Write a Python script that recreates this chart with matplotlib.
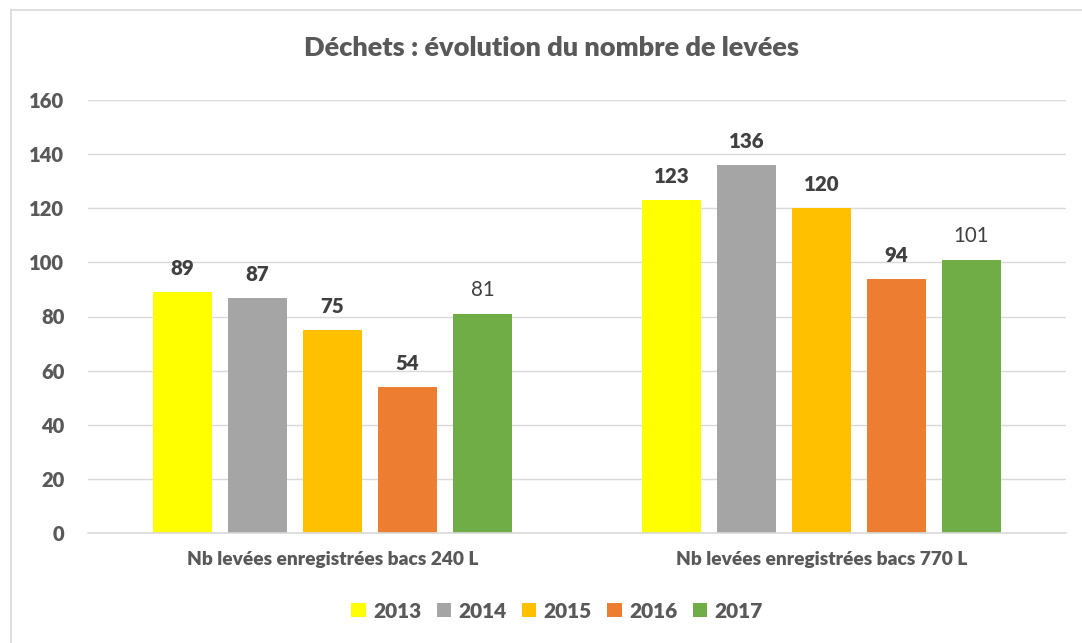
import matplotlib
matplotlib.use("Agg")
import matplotlib.pyplot as plt
from matplotlib.lines import Line2D
from matplotlib.patches import Patch
import numpy as np

categories = ["Nb levées enregistrées bacs 240 L", "Nb levées enregistrées bacs 770 L"]
years = ["2013", "2014", "2015", "2016", "2017"]
values = {
    "2013": [89, 123],
    "2014": [87, 136],
    "2015": [75, 120],
    "2016": [54, 94],
    "2017": [81, 101],
}
colors = ["#FFFF00", "#A5A5A5", "#FFC000", "#ED7D31", "#70AD47"]
bold_labels = [True, True, True, True, False]
yticks = [0, 20, 40, 60, 80, 100, 120, 140, 160]
title = "Déchets : évolution du nombre de levées"

plt.rcParams['font.family'] = ['Lato', 'DejaVu Sans']
W, H = 1082, 643
fig = plt.figure(figsize=(W / 100, H / 100), dpi=100)
ax = fig.add_axes([88 / W, 1 - 533 / H, (1066 - 88) / W, (533 - 100) / H])

txt = "#595959"
lab = "#404040"
grid = "#D9D9D9"

bw = 59 / 489
pitch = 75 / 489
x = np.arange(len(categories))
for i, (yr, c) in enumerate(zip(years, colors)):
    pos = x + (i - 2) * pitch
    bars = ax.bar(pos, values[yr], width=bw, color=c, zorder=3)
    for b, v in zip(bars, values[yr]):
        ax.annotate(str(v), (b.get_x() + b.get_width() / 2, v),
                    xytext=(0, 10), textcoords="offset points",
                    ha="center", va="bottom", fontsize=14.8,
                    fontweight="heavy" if bold_labels[i] else "normal",
                    color=lab)

ax.set_xlim(-0.5, 1.5)
ax.set_ylim(0, 160)
ax.set_yticks(yticks)
ax.set_yticklabels([str(t) for t in yticks], fontsize=14.5, fontweight="heavy", color=txt)
ax.set_xticks(x)
ax.set_xticklabels(categories, fontsize=13.8, fontweight="heavy", color=txt)
ax.tick_params(axis="both", length=0)
ax.tick_params(axis="y", pad=17)
ax.tick_params(axis="x", pad=13)
ax.grid(axis="y", color=grid, linewidth=1, zorder=0)
for s in ["top", "right", "left"]:
    ax.spines[s].set_visible(False)
ax.spines["bottom"].set_color(grid)
ax.spines["bottom"].set_linewidth(1.2)
ax.spines["bottom"].set_zorder(4)

fig.text(552 / W, 1 - 48 / H, title, ha="center", va="center",
         fontsize=19.5, fontweight="heavy", color=txt)

handles = [Patch(facecolor=c, edgecolor="none") for c in colors]
leg = fig.legend(handles, years, loc="center", bbox_to_anchor=(557 / W, 1 - 611 / H),
                 ncol=5, frameon=False, handlelength=0.68, handleheight=0.68,
                 handletextpad=0.35, columnspacing=0.75,
                 prop={"size": 15, "weight": "heavy"})
for t in leg.get_texts():
    t.set_color(txt)

# chart border
fig.add_artist(Line2D([11 / W, 11 / W], [0, 1 - 10 / H], transform=fig.transFigure, color=grid, lw=1.2))
fig.add_artist(Line2D([11 / W, 1], [1 - 10 / H, 1 - 10 / H], transform=fig.transFigure, color=grid, lw=1.2))

fig.savefig("out.png", dpi=100)
